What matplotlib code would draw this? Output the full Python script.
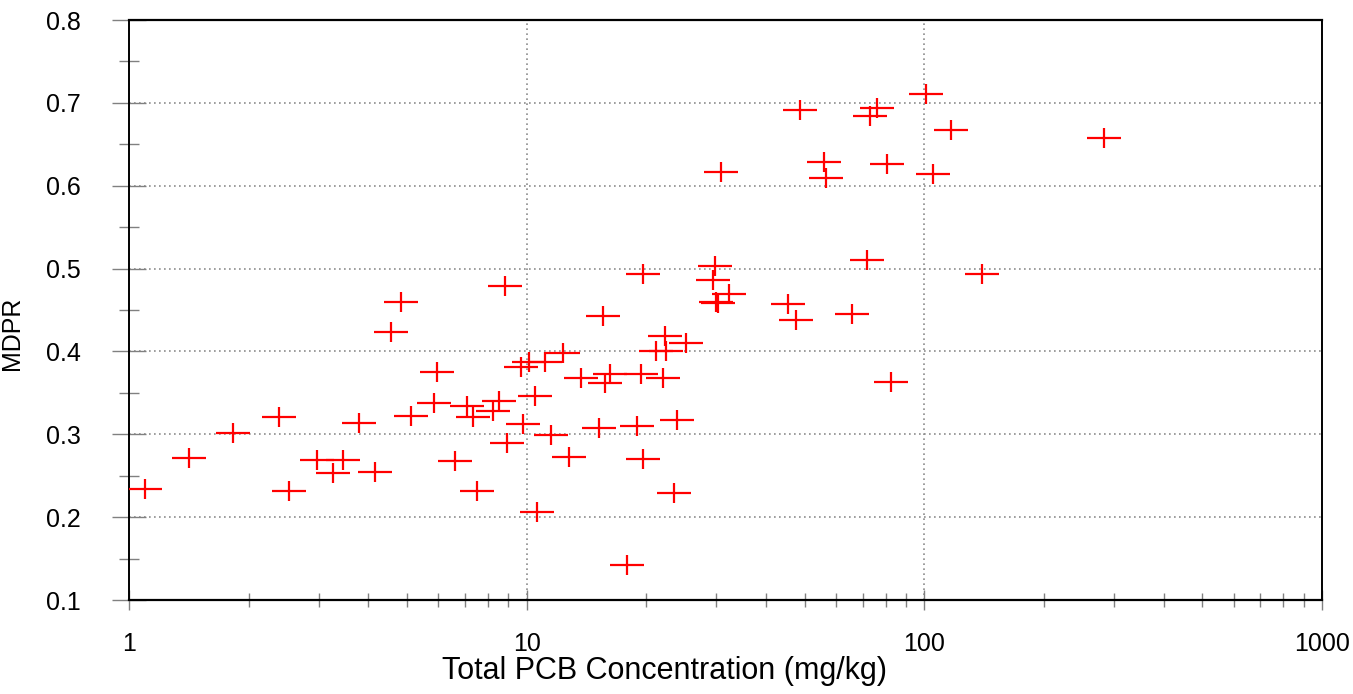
import matplotlib
matplotlib.use("Agg")
import matplotlib.pyplot as plt
import matplotlib.ticker as mticker
from matplotlib.path import Path

# Data
pcb = [1.099, 1.417, 1.829, 2.386, 2.527, 2.972, 3.262, 3.455, 3.790, 4.158,
       5.121, 4.560, 4.833, 5.934, 5.849, 6.594, 7.070, 7.320, 7.487, 8.214,
       8.505, 8.822, 8.924, 9.676, 9.770, 10.12, 10.49, 10.63, 11.12, 11.51,
       12.34, 12.78, 13.72, 15.17, 15.55, 15.70, 16.19, 17.87, 18.93, 19.37,
       19.56, 19.56, 21.13, 21.96, 22.26, 22.39, 23.49, 23.82, 25.23, 29.34,
       29.78, 29.90, 30.25, 30.78, 32.18, 45.53, 47.50, 48.80, 56.07, 56.59,
       65.93, 71.92, 73.01, 75.88, 80.41, 82.29, 101.2, 104.9, 116.4, 139.9,
       283.8]
mdpr = [0.2339, 0.2717, 0.3010, 0.3208, 0.2310, 0.2692, 0.2532, 0.2692, 0.3135, 0.2548,
        0.3217, 0.4240, 0.4602, 0.3748, 0.3374, 0.2672, 0.3347, 0.3203, 0.2310, 0.3275,
        0.3396, 0.4795, 0.2897, 0.3808, 0.3123, 0.3869, 0.3468, 0.2065, 0.3878, 0.2986,
        0.3975, 0.2720, 0.3678, 0.3078, 0.4433, 0.3613, 0.3733, 0.1417, 0.3099, 0.3733,
        0.4940, 0.2701, 0.4007, 0.3682, 0.4192, 0.4007, 0.2286, 0.3178, 0.4100, 0.4864,
        0.5036, 0.4598, 0.4580, 0.6170, 0.4695, 0.4578, 0.4385, 0.6914, 0.6291, 0.6098,
        0.4457, 0.5105, 0.6846, 0.6942, 0.6263, 0.3637, 0.7111, 0.6142, 0.6677, 0.4936,
        0.6577]

x_ticks = [1, 10, 100, 1000]
x_tick_labels = ["1", "10", "100", "1000"]
y_ticks = [0.1, 0.2, 0.3, 0.4, 0.5, 0.6, 0.7, 0.8]
y_tick_labels = ["0.1", "0.2", "0.3", "0.4", "0.5", "0.6", "0.7", "0.8"]

plt.rcParams['font.family'] = ['Liberation Sans', 'DejaVu Sans']
FS = 18

fig = plt.figure(figsize=(13.53, 6.94), dpi=100)
ax = fig.add_axes([129 / 1353, 1 - 600 / 694, (1322 - 129) / 1353, (600 - 20) / 694])

# wide plus marker
plus = Path([(-1, 0), (1, 0), (0, -0.6), (0, 0.6)],
            [Path.MOVETO, Path.LINETO, Path.MOVETO, Path.LINETO])
ax.plot(pcb, mdpr, linestyle='none', marker=plus, markersize=23.8,
        markeredgecolor='#ff0000', markerfacecolor='none', markeredgewidth=1.6,
        zorder=3)

ax.set_xscale('log')
ax.set_xlim(1, 1000)
ax.set_ylim(0.1, 0.8)

ax.set_xticks(x_ticks)
ax.set_xticklabels(x_tick_labels)
ax.xaxis.set_minor_locator(mticker.LogLocator(base=10, subs=range(2, 10)))
ax.xaxis.set_minor_formatter(mticker.NullFormatter())
ax.set_yticks(y_ticks)
ax.set_yticklabels(y_tick_labels)
ax.yaxis.set_minor_locator(mticker.MultipleLocator(0.05))

ax.tick_params(axis='both', which='both', direction='inout', colors='#808080',
               labelcolor='black', labelsize=FS, width=1.0)
ax.tick_params(axis='y', which='major', length=23.8, pad=22.5)
ax.tick_params(axis='y', which='minor', length=15)
ax.tick_params(axis='x', which='major', length=14.4, pad=15.8)
ax.tick_params(axis='x', which='minor', length=9.5)

ax.grid(True, which='major', color='#8c8c8c', linestyle=(0, (1, 2)), linewidth=1.2)
ax.set_axisbelow(True)

for s in ['top', 'bottom']:
    ax.spines[s].set_color('black')
    ax.spines[s].set_linewidth(1.6)
for s in ['left', 'right']:
    ax.spines[s].set_color('black')
    ax.spines[s].set_linewidth(1.4)
    ax.spines[s].set_linestyle((0, (1, 1)))

ax.set_xlabel("Total PCB Concentration (mg/kg)", fontsize=22)
ax.xaxis.set_label_coords((664 - 129) / 1193, -(656 - 600) / 580)
ax.set_ylabel("MDPR", fontsize=FS)
ax.yaxis.set_label_coords(-0.088, (600 - 333) / 580)

fig.savefig("out.png", dpi=100)
